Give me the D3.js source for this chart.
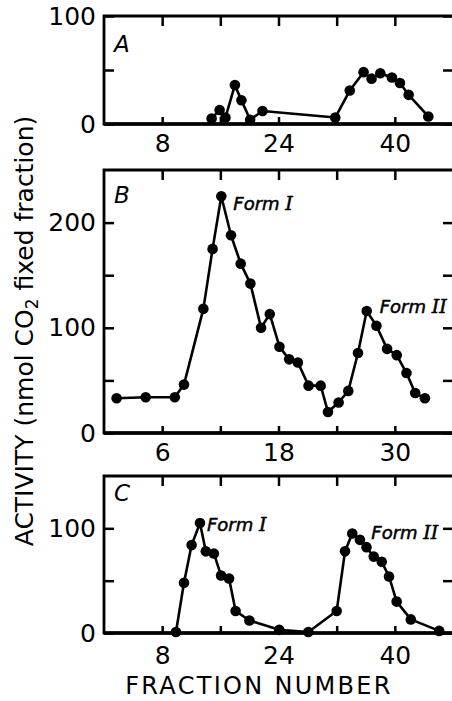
<!DOCTYPE html>
<html>
<head>
<meta charset="utf-8">
<script src="https://cdn.jsdelivr.net/npm/d3@7"></script>
<style>
  body { margin: 0; background: #fff; }
  svg { display: block; }
</style>
</head>
<body>
<svg id="chart" width="452" height="701"></svg>
<script>
// panel A
const fractionA = [14.8, 15.9, 16.7, 18.0, 18.9, 20.1, 21.8, 31.8, 33.8, 35.7, 36.8, 38.0, 39.6, 40.7, 41.9, 44.6];
const activityA = [5, 13, 6, 36, 22, 4, 12, 6, 31, 48, 42, 47, 43, 38, 27, 7];

// panel B
const fractionB = [1.3, 4.3, 7.3, 8.25, 10.25, 11.2, 12.1, 13.1, 14.1, 15.1, 16.2, 17.1, 18.1, 19.1, 20.0, 21.1, 22.35,
  23.1, 24.2, 25.2, 26.2, 27.1, 28.1, 29.2, 30.2, 31.2, 32.1, 33.1];
const activityB = [33, 34, 34, 46, 118, 175, 225, 188, 161, 142, 100, 113, 82, 70, 67, 45, 45,
  20, 29, 40, 76, 116, 102, 80, 74, 57, 38, 33];

// panel C
const fractionC = [9.9, 11.0, 12.05, 13.2, 14.0, 15.1, 16.1, 17.2, 18.1, 20.0, 24.1, 28.1, 32.0, 33.15, 34.15,
  35.2, 36.1, 37.1, 38.2, 39.2, 40.25, 42.2, 46.1];
const activityC = [1, 48, 84, 105, 78, 76, 55, 52, 21, 12, 3, 1, 21, 78, 95, 89, 82, 73, 68, 54, 30, 13, 2];

const xTicksAC = [8, 16, 24, 32, 40];
const xLabelsAC = [8, 24, 40];
const xTicksB = [6, 12, 18, 24, 30];
const xLabelsB = [6, 18, 30];
const yTicksA = [0, 50, 100];
const yTicksB = [0, 50, 100, 150, 200];
const yTicksC = [0, 50, 100];
const yLabels = [0, 100, 200];

const formLabels = [
  { panel: "B", form: "I", fraction: 12.1, activity: 225, dx: 12, dy: 14 },
  { panel: "B", form: "II", fraction: 27.1, activity: 116, dx: 13, dy: 2 },
  { panel: "C", form: "I", fraction: 13.2, activity: 105, dx: 7, dy: 8 },
  { panel: "C", form: "II", fraction: 34.15, activity: 95, dx: 19, dy: 5 }
];

const panels = [
  { name: "A", fr: fractionA, act: activityA, xMax: 48, yMax: 100, xTicks: xTicksAC, xLabels: xLabelsAC, yTicks: yTicksA, top: 16, bottom: 124, pad: 10, letterY: 52 },
  { name: "B", fr: fractionB, act: activityB, xMax: 36, yMax: 250, xTicks: xTicksB, xLabels: xLabelsB, yTicks: yTicksB, top: 170, bottom: 433, pad: 10, letterY: 203 },
  { name: "C", fr: fractionC, act: activityC, xMax: 48, yMax: 150, xTicks: xTicksAC, xLabels: xLabelsAC, yTicks: yTicksC, top: 476, bottom: 633, pad: 13, letterY: 501 }
];

const left = 104;
const right = 453;
const font = "'DejaVu Sans', sans-serif";

const svg = d3.select("#chart");

panels.forEach((p) => {
  const xScale = d3.scaleLinear().domain([0, p.xMax]).range([left, right]);
  const yScale = d3.scaleLinear().domain([0, p.yMax]).range([p.bottom, p.top]);
  const g = svg.append("g").attr("class", "panel-" + p.name);

  // inward ticks on all four sides
  const styleAxis = (sel) => {
    sel.select(".domain").remove();
    sel.selectAll(".tick line").attr("stroke", "#000").attr("stroke-width", 2.5);
    sel.attr("font-family", font).attr("font-size", 25);
    sel.selectAll(".tick text").attr("fill", "#000");
  };

  g.append("g")
    .attr("transform", `translate(0,${p.bottom})`)
    .call(
      d3.axisBottom(xScale)
        .tickValues(p.xTicks)
        .tickSize(-7)
        .tickPadding(p.pad)
        .tickFormat((d) => (p.xLabels.includes(d) ? d : ""))
    )
    .call(styleAxis);

  g.append("g")
    .attr("transform", `translate(0,${p.top})`)
    .call(d3.axisTop(xScale).tickValues(p.xTicks).tickSize(-10).tickFormat(""))
    .call(styleAxis);

  g.append("g")
    .attr("transform", `translate(${left},0)`)
    .call(
      d3.axisLeft(yScale)
        .tickValues(p.yTicks)
        .tickSize(-10)
        .tickPadding(8)
        .tickFormat((d) => (yLabels.includes(d) ? d : ""))
    )
    .call(styleAxis);

  g.append("g")
    .attr("transform", `translate(${right},0)`)
    .call(d3.axisRight(yScale).tickValues(p.yTicks).tickSize(-10).tickFormat(""))
    .call(styleAxis);

  // frame
  g.append("path")
    .attr("d", `M${right},${p.top}H${left}V${p.bottom}H${right}`)
    .attr("fill", "none")
    .attr("stroke", "#000")
    .attr("stroke-width", 2.8);
  g.append("line")
    .attr("x1", left)
    .attr("x2", right)
    .attr("y1", p.bottom)
    .attr("y2", p.bottom)
    .attr("stroke", "#000")
    .attr("stroke-width", 3.5);

  const data = p.fr.map((f, i) => ({ fraction: f, activity: p.act[i] }));

  const line = d3
    .line()
    .x((d) => xScale(d.fraction))
    .y((d) => yScale(d.activity));

  g.append("path")
    .datum(data)
    .attr("fill", "none")
    .attr("stroke", "#000")
    .attr("stroke-width", 2.6)
    .attr("stroke-linejoin", "round")
    .attr("d", line);

  g.selectAll(".dot")
    .data(data)
    .enter()
    .append("circle")
    .attr("class", "dot")
    .attr("cx", (d) => xScale(d.fraction))
    .attr("cy", (d) => yScale(d.activity))
    .attr("r", 5.3)
    .attr("fill", "#000");

  g.append("text")
    .attr("x", left + 10)
    .attr("y", p.letterY)
    .attr("font-family", font)
    .attr("font-style", "italic")
    .attr("font-size", 23)
    .text(p.name);

  formLabels
    .filter((f) => f.panel === p.name)
    .forEach((f) => {
      const t = g
        .append("text")
        .attr("x", xScale(f.fraction) + f.dx)
        .attr("y", yScale(f.activity) + f.dy)
        .attr("font-family", font)
        .attr("font-style", "italic")
        .attr("font-size", 18)
        .attr("stroke", "#000")
        .attr("stroke-width", 0.5);
      t.append("tspan").text("Form ");
      t.append("tspan")
        .attr("font-family", "'DejaVu Serif', serif")
        .attr("font-size", 19)
        .text(f.form);
    });
});

// axis titles
const yTitle = svg
  .append("text")
  .attr("transform", "translate(33,331) rotate(-90)")
  .attr("text-anchor", "middle")
  .attr("font-family", font)
  .attr("font-size", 25);
yTitle.append("tspan").text("ACTIVITY (nmol CO");
yTitle.append("tspan").attr("font-size", 17).attr("dy", 5).text("2");
yTitle.append("tspan").attr("dy", -5).text(" fixed fraction)");

svg
  .append("text")
  .attr("x", 259)
  .attr("y", 694)
  .attr("text-anchor", "middle")
  .attr("font-family", font)
  .attr("font-size", 24)
  .attr("letter-spacing", 2.3)
  .text("FRACTION NUMBER");
</script>
</body>
</html>
